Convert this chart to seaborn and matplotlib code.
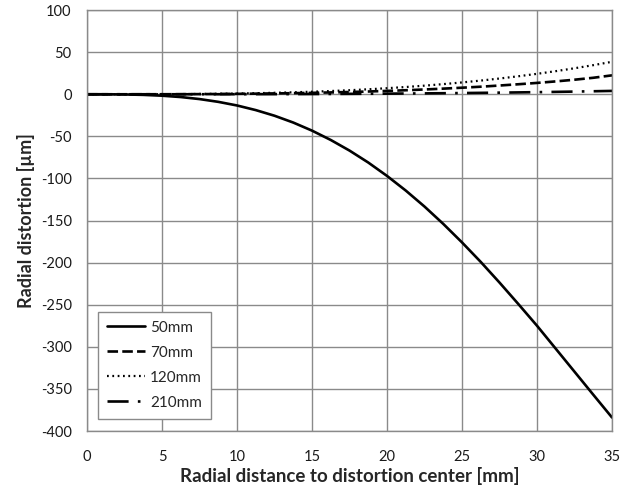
"""
Radial distortion vs radial distance for four focal lengths.
"""

import matplotlib
matplotlib.use("Agg")
import matplotlib.pyplot as plt
import pandas as pd
import seaborn as sns

# --- Data ---
radius_mm = [0, 1.25, 2.5, 3.75, 5, 6.25, 7.5, 8.75, 10, 11.25, 12.5, 13.75, 15, 16.25,
             17.5, 18.75, 20, 21.25, 22.5, 23.75, 25, 26.25, 27.5, 28.75, 30, 31.25,
             32.5, 33.75, 35]
dist_50mm = [0, -0.03, -0.2, -0.7, -1.7, -3.3, -5.7, -9.0, -13.3, -18.8, -25.5, -33.6,
             -43.2, -54.3, -66.9, -81.1, -97, -114.4, -133.4, -154, -176, -199.2, -223.7,
             -249.1, -275, -302.3, -329.6, -356.9, -384]
dist_70mm = [0, 0, 0.005, 0.02, 0.05, 0.1, 0.18, 0.3, 0.5, 0.7, 1.0, 1.3, 1.7, 2.2, 2.7,
             3.3, 4.0, 4.8, 5.7, 6.7, 7.8, 9.0, 10.4, 11.9, 13.5, 15.3, 17.3, 19.6, 22.5]
dist_120mm = [0, 0.002, 0.014, 0.05, 0.11, 0.22, 0.38, 0.6, 0.9, 1.28, 1.76, 2.34, 3.04,
              3.86, 4.82, 5.93, 7.2, 8.64, 10.25, 12.06, 14.06, 16.28, 18.72, 21.39,
              24.3, 27.47, 30.9, 34.6, 38.6]
dist_210mm = [0, 0, 0, 0.005, 0.01, 0.02, 0.04, 0.06, 0.09, 0.13, 0.18, 0.24, 0.31, 0.4,
              0.5, 0.62, 0.75, 0.9, 1.06, 1.25, 1.46, 1.69, 1.94, 2.22, 2.52, 2.85, 3.2,
              3.59, 4.0]
series_labels = ["50mm", "70mm", "120mm", "210mm"]

x_ticks = [0, 5, 10, 15, 20, 25, 30, 35]
y_ticks = [-400, -350, -300, -250, -200, -150, -100, -50, 0, 50, 100]


def main():
    sns.set_theme(style="white")
    plt.rcParams["font.family"] = ["Lato", "DejaVu Sans"]
    plt.rcParams["axes.unicode_minus"] = False

    df = pd.DataFrame({
        "r": radius_mm * 4,
        "d": dist_50mm + dist_70mm + dist_120mm + dist_210mm,
        "lens": sum([[lab] * len(radius_mm) for lab in series_labels], []),
    })

    fig = plt.figure(figsize=(6.26, 4.9), dpi=100)
    ax = fig.add_axes([0.139, 0.1204, 0.8387, 0.859])

    styles = {
        "50mm": dict(linestyle="-", linewidth=1.9),
        "70mm": dict(linestyle=(0, (4, 1.6)), linewidth=1.9),
        "120mm": dict(linestyle=(0, (0.8, 1.6)), linewidth=1.6),
        "210mm": dict(linestyle=(0, (8, 3.5, 1, 3.5)), linewidth=1.9),
    }
    for lab in series_labels:
        sub = df[df["lens"] == lab]
        sns.lineplot(data=sub, x="r", y="d", ax=ax, color="black", label=lab,
                     **styles[lab])

    ax.set_xlim(0, 35)
    ax.set_ylim(-400, 100)
    ax.set_xticks(x_ticks)
    ax.set_yticks(y_ticks)
    ax.grid(True, color="#8a8a8a", linewidth=1.0)
    ax.set_axisbelow(True)
    for sp in ax.spines.values():
        sp.set_color("#8a8a8a")
        sp.set_linewidth(1.0)
    ax.tick_params(axis="both", which="both", direction="out", length=5, width=1.0,
                   color="#8a8a8a", labelsize=10.5, labelcolor="#1a1a1a", pad=6)
    ax.tick_params(axis="x", pad=9)

    ax.set_xlabel("Radial distance to distortion center [mm]", fontsize=13.5,
                  fontweight="bold", labelpad=2)
    ax.set_ylabel("Radial distortion [µm]", fontsize=13, fontweight="bold", labelpad=4)

    leg = ax.legend(loc="lower left", bbox_to_anchor=(0.021, 0.0285), borderaxespad=0,
                    frameon=True, fancybox=False, edgecolor="#8a8a8a", framealpha=1,
                    fontsize=11, handlelength=2.5, handletextpad=0.3,
                    labelspacing=0.72, borderpad=0.6)
    leg.get_frame().set_linewidth(1.0)

    fig.savefig("out.png", dpi=100)
    plt.close(fig)


if __name__ == "__main__":
    main()
